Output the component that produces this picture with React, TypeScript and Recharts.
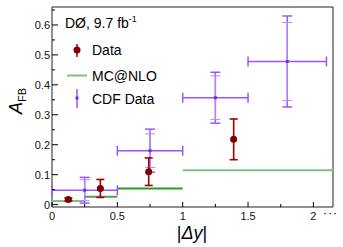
import { ComposedChart, ErrorBar, ReferenceArea, ReferenceLine, Scatter, XAxis, YAxis } from 'recharts'

// D0 measurement (dark red points)
const d0X = [0.125, 0.37, 0.74, 1.39]
const d0Y = [0.017, 0.054, 0.11, 0.218]
const d0Err = [0.005, 0.03, 0.046, 0.068]

// CDF measurement (purple crosses)
const cdfX = [0.25, 0.75, 1.25, 1.8]
const cdfXErr = [0.25, 0.25, 0.25, 0.3]
const cdfY = [0.048, 0.18, 0.357, 0.478]
const cdfTot = [0.043, 0.072, 0.085, 0.152]
const cdfStat = [0.035, 0.056, 0.073, 0.13]

// MC@NLO prediction per bin
const mcLo = [0, 0.25, 0.5, 1]
const mcHi = [0.25, 0.5, 1, 2.15]
const mcY = [0.012, 0.026, 0.054, 0.115]
const mcColors = ['#80c080', '#559f55', '#22a022', '#80c080']

const xTicks = [0, 0.25, 0.5, 0.75, 1, 1.25, 1.5, 1.75, 2]
const xLabels = ['0', '0.5', '1', '1.5', '2']
const yTicks = [0, 0.05, 0.1, 0.15, 0.2, 0.25, 0.3, 0.35, 0.4, 0.45, 0.5, 0.55, 0.6, 0.65]
const yLabels = ['0', '0.1', '0.2', '0.3', '0.4', '0.5', '0.6']

const X_DOMAIN: [number, number] = [0, 2.15]
const Y_DOMAIN: [number, number] = [-0.008, 0.66]

const FONT = '"Liberation Sans", Arial, sans-serif'
const RED = '#800000'
const PURPLE = '#9a55ff'
const PURPLE_LIGHT = '#b58cff'

const d0Data = d0X.map((x, i) => ({ x, y: d0Y[i], err: d0Err[i] }))
const cdfData = cdfX.map((x, i) => ({ x, y: cdfY[i], ex: cdfXErr[i], tot: cdfTot[i], stat: cdfStat[i] }))

const fmt = (v: number) => String(Number(v.toFixed(2)))

function XTick({ x, y, payload }: any) {
  const label = fmt(payload.value)
  const major = xLabels.includes(label)
  return (
    <g>
      <line x1={x} x2={x} y1={y} y2={y - (major ? 5 : 3)} stroke="#000" />
      {major && (
        <text x={x} y={y + 13} textAnchor="middle" fontSize={11} fontFamily={FONT} fill="#111">
          {label}
        </text>
      )}
    </g>
  )
}

function YTick({ x, y, payload }: any) {
  const label = fmt(payload.value)
  const major = yLabels.includes(label)
  return (
    <g>
      <line x1={x} x2={x + (major ? 6 : 3)} y1={y} y2={y} stroke="#000" />
      {major && (
        <text x={x - 2} y={y + 4} textAnchor="end" fontSize={11} fontFamily={FONT} fill="#111">
          {label}
        </text>
      )}
    </g>
  )
}

const RedDot = (p: any) => <circle cx={p.cx} cy={p.cy} r={3.5} fill={RED} />
const PurpleDot = (p: any) => <rect x={p.cx - 1.5} y={p.cy - 1.5} width={3} height={3} fill="#6a35d8" />

export default function App() {
  return (
    <div style={{ position: 'absolute', left: 0, top: 0, width: 343, height: 247, background: '#fff' }}>
      <ComposedChart width={343} height={247} margin={{ top: 7, right: 10, bottom: 0, left: 0 }}>
        <XAxis
          type="number"
          dataKey="x"
          domain={X_DOMAIN}
          ticks={xTicks}
          allowDataOverflow
          height={40}
          tickSize={0}
          tickMargin={0}
          tickLine={false}
          axisLine={false}
          tick={<XTick />}
          interval={0}
        />
        <YAxis
          type="number"
          dataKey="y"
          domain={Y_DOMAIN}
          ticks={yTicks}
          allowDataOverflow
          width={52}
          tickSize={0}
          tickMargin={0}
          tickLine={false}
          axisLine={false}
          tick={<YTick />}
          interval={0}
        />
        <ReferenceArea
          x1={X_DOMAIN[0]}
          x2={X_DOMAIN[1]}
          y1={Y_DOMAIN[0]}
          y2={Y_DOMAIN[1]}
          fill="none"
          stroke="#222"
          strokeWidth={1}
        />
        {mcY.map((v, i) => (
          <ReferenceLine
            key={i}
            segment={[
              { x: mcLo[i], y: v },
              { x: mcHi[i], y: v },
            ]}
            stroke={mcColors[i]}
            strokeWidth={2}
          />
        ))}
        <Scatter data={cdfData} shape={PurpleDot} isAnimationActive={false}>
          <ErrorBar dataKey="ex" direction="x" width={5} stroke={PURPLE} strokeWidth={1.5} isAnimationActive={false} />
          <ErrorBar dataKey="tot" direction="y" width={5} stroke={PURPLE} strokeWidth={1.5} isAnimationActive={false} />
          <ErrorBar dataKey="stat" direction="y" width={5} stroke={PURPLE_LIGHT} strokeWidth={1} isAnimationActive={false} />
        </Scatter>
        <Scatter data={d0Data} shape={RedDot} isAnimationActive={false}>
          <ErrorBar dataKey="err" direction="y" width={4} stroke="#a00000" strokeWidth={1.6} isAnimationActive={false} />
        </Scatter>
      </ComposedChart>
      <svg
        width={343}
        height={247}
        style={{ position: 'absolute', left: 0, top: 0, pointerEvents: 'none' }}
        fontFamily={FONT}
      >
        <text x={65} y={28} fontSize={14} fill="#000">
          DØ, 9.7 fb
          <tspan fontSize={9} dy={-6}>-1</tspan>
        </text>
        <line x1={77} x2={77} y1={44} y2={57} stroke="#a00000" strokeWidth={1.5} />
        <circle cx={77} cy={50} r={3.5} fill={RED} />
        <text x={92} y={55} fontSize={14} fill="#000">Data</text>
        <line x1={67} x2={87} y1={75.5} y2={75.5} stroke="#80c080" strokeWidth={2} />
        <text x={92} y={81} fontSize={14} fill="#000">MC@NLO</text>
        <line x1={77} x2={77} y1={89} y2={108} stroke={PURPLE} strokeWidth={1.5} />
        <rect x={75.5} y={96.5} width={3} height={3} fill="#6a35d8" />
        <text x={92} y={104} fontSize={14} fill="#000">CDF Data</text>
        <text x={22} y={101} transform="rotate(-90 22 101)" textAnchor="middle" fontSize={18} fill="#000">
          <tspan fontStyle="italic">A</tspan>
          <tspan fontSize={11} dy={4}>FB</tspan>
        </text>
        <text x={192} y={239} textAnchor="middle" fontSize={18} fill="#000">
          |<tspan fontStyle="italic">Δy</tspan>|
        </text>
        <text x={323} y={217} fontSize={12} fill="#000" letterSpacing={1}>···</text>
      </svg>
    </div>
  )
}
